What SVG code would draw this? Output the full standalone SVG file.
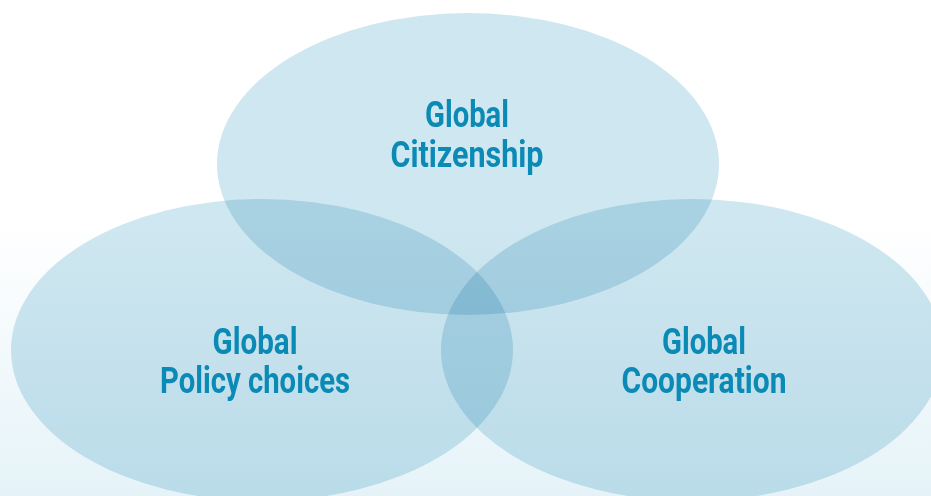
<svg xmlns="http://www.w3.org/2000/svg" width="931" height="496" viewBox="0 0 931 496">
<defs>
<linearGradient id="bg" x1="0" y1="0" x2="0" y2="496" gradientUnits="userSpaceOnUse">
<stop offset="0.45" stop-color="#ffffff"/>
<stop offset="1" stop-color="#e5f3f8"/>
</linearGradient>
</defs>
<style>
.circ{fill:#cfe7f0;mix-blend-mode:multiply}
.lbl{font-family:"Roboto","Liberation Sans",sans-serif;font-weight:bold;font-size:37px;fill:#0b8ab5;text-anchor:middle}
</style>
<rect width="931" height="496" fill="url(#bg)"/>
<g id="connectors"></g>
<g id="citizenship">
<ellipse class="circ" cx="468" cy="164" rx="251" ry="151"/>
</g>
<g id="policy">
<ellipse class="circ" cx="262" cy="350" rx="251" ry="151"/>
</g>
<g id="cooperation">
<ellipse class="circ" cx="692" cy="350" rx="251" ry="151"/>
</g>
<g id="labels">
<text class="lbl" x="467" y="127" textLength="84" lengthAdjust="spacingAndGlyphs">Global</text>
<text class="lbl" x="467" y="167" textLength="153" lengthAdjust="spacingAndGlyphs">Citizenship</text>
<text class="lbl" x="255" y="354" textLength="85" lengthAdjust="spacingAndGlyphs">Global</text>
<text class="lbl" x="255" y="393" textLength="190" lengthAdjust="spacingAndGlyphs">Policy choices</text>
<text class="lbl" x="704" y="354" textLength="84" lengthAdjust="spacingAndGlyphs">Global</text>
<text class="lbl" x="704" y="393" textLength="165" lengthAdjust="spacingAndGlyphs">Cooperation</text>
</g>
</svg>
